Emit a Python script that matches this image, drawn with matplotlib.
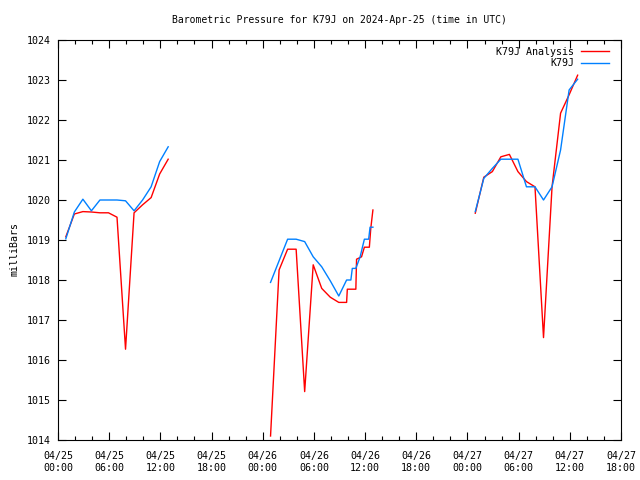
import matplotlib
matplotlib.use("Agg")
import matplotlib.pyplot as plt
import matplotlib.dates as mdates
import numpy as np
import pandas as pd

# K79J observations (UTC)
obs_times = [
    "04-25 00:55", "04-25 01:55", "04-25 02:55", "04-25 03:55", "04-25 04:55",
    "04-25 05:55", "04-25 06:55", "04-25 07:55", "04-25 08:55", "04-25 09:55",
    "04-25 10:55", "04-25 11:55", "04-25 12:55", None,
    "04-26 00:55", "04-26 01:55", "04-26 02:55", "04-26 03:55", "04-26 04:55",
    "04-26 05:55", "04-26 06:55", "04-26 07:55", "04-26 08:55", "04-26 09:50",
    "04-26 10:20", "04-26 10:30", "04-26 10:55", "04-26 11:25", "04-26 11:55",
    "04-26 12:25", "04-26 12:35", "04-26 12:55", None,
    "04-27 00:55", "04-27 01:55", "04-27 02:55", "04-27 03:55", "04-27 04:55",
    "04-27 05:55", "04-27 06:55", "04-27 07:55", "04-27 08:55", "04-27 09:55",
    "04-27 10:55", "04-27 11:55", "04-27 12:55",
]
obs_mb = [
    1019.03, 1019.70, 1020.02, 1019.73, 1020.00,
    1020.00, 1020.00, 1019.98, 1019.73, 1020.00,
    1020.33, 1020.96, 1021.33, np.nan,
    1017.94, 1018.48, 1019.02, 1019.02, 1018.96,
    1018.58, 1018.33, 1017.98, 1017.60, 1018.00,
    1018.00, 1018.29, 1018.29, 1018.58, 1019.02,
    1019.02, 1019.32, 1019.32, np.nan,
    1019.71, 1020.54, 1020.79, 1021.02, 1021.02,
    1021.02, 1020.33, 1020.33, 1020.00, 1020.33,
    1021.25, 1022.75, 1023.02,
]

# K79J analysis
ana_times = [
    "04-25 00:55", "04-25 01:55", "04-25 02:55", "04-25 03:55", "04-25 04:55",
    "04-25 05:55", "04-25 06:55", "04-25 07:55", "04-25 08:55", "04-25 09:55",
    "04-25 10:55", "04-25 11:55", "04-25 12:55", None,
    "04-26 00:55", "04-26 01:55", "04-26 02:55", "04-26 03:55", "04-26 04:55",
    "04-26 05:55", "04-26 06:55", "04-26 07:55", "04-26 08:55", "04-26 09:50",
    "04-26 09:55", "04-26 10:55", "04-26 11:00", "04-26 11:35", "04-26 11:55",
    "04-26 12:30", "04-26 12:40", "04-26 12:55", None,
    "04-27 00:55", "04-27 01:55", "04-27 02:55", "04-27 03:55", "04-27 04:55",
    "04-27 05:55", "04-27 06:55", "04-27 07:55", "04-27 08:55", "04-27 09:55",
    "04-27 10:55", "04-27 11:55", "04-27 12:55",
]
ana_mb = [
    1019.08, 1019.65, 1019.71, 1019.70, 1019.68,
    1019.68, 1019.57, 1016.27, 1019.68, 1019.88,
    1020.06, 1020.65, 1021.02, np.nan,
    1014.10, 1018.25, 1018.77, 1018.77, 1015.21,
    1018.38, 1017.79, 1017.57, 1017.44, 1017.44,
    1017.77, 1017.77, 1018.52, 1018.58, 1018.82,
    1018.82, 1019.29, 1019.75, np.nan,
    1019.67, 1020.57, 1020.71, 1021.08, 1021.14,
    1020.71, 1020.46, 1020.33, 1016.56, 1020.33,
    1022.17, 1022.63, 1023.12,
]


def to_num(lst):
    # None marks a gap in the record
    return [mdates.date2num(pd.Timestamp("2024-" + s)) if s else np.nan for s in lst]


plt.rcParams['font.family'] = ['DejaVu Sans Mono']
plt.rcParams['font.size'] = 7.2

fig = plt.figure(figsize=(6.4, 4.8), dpi=100)
ax = fig.add_axes([58 / 640, 40 / 480, 563 / 640, 400 / 480])

ax.plot(to_num(ana_times), ana_mb, color='#ff0000', lw=1.0, label='K79J Analysis')
ax.plot(to_num(obs_times), obs_mb, color='#0080ff', lw=1.0, label='K79J')

ax.xaxis_date()
ax.set_xlim(mdates.date2num(pd.Timestamp("2024-04-25 00:00")),
            mdates.date2num(pd.Timestamp("2024-04-27 18:00")))
ax.set_ylim(1014, 1024)
ax.set_yticks(np.arange(1014, 1025, 1))
ax.set_yticklabels([str(v) for v in range(1014, 1025)])

ax.xaxis.set_major_locator(mdates.HourLocator(byhour=[0, 6, 12, 18]))
ax.xaxis.set_minor_locator(mdates.HourLocator(byhour=range(0, 24, 2)))
ax.xaxis.set_major_formatter(mdates.DateFormatter("%m/%d\n%H:%M"))

ax.tick_params(which='major', direction='in', length=6, width=0.8,
               top=True, right=True, pad=5)
ax.tick_params(axis='x', which='major', pad=8)
ax.tick_params(which='minor', direction='in', length=3, width=0.8, top=True)
ax.tick_params(axis='y', which='minor', left=False, right=False)
for sp in ax.spines.values():
    sp.set_linewidth(0.8)

ax.set_ylabel('milliBars')
ax.yaxis.set_label_coords(-0.068, 0.478)
ax.set_title('Barometric Pressure for K79J on 2024-Apr-25 (time in UTC)',
             fontsize=7.0, pad=12)

leg = ax.legend(loc='upper right', bbox_to_anchor=(0.9858, 0.993),
                frameon=False, markerfirst=False, borderaxespad=0,
                handlelength=2.8, labelspacing=0.15, handletextpad=0.7)
for t in leg.get_texts():
    t.set_ha('right')

fig.savefig('out.png', dpi=100)
